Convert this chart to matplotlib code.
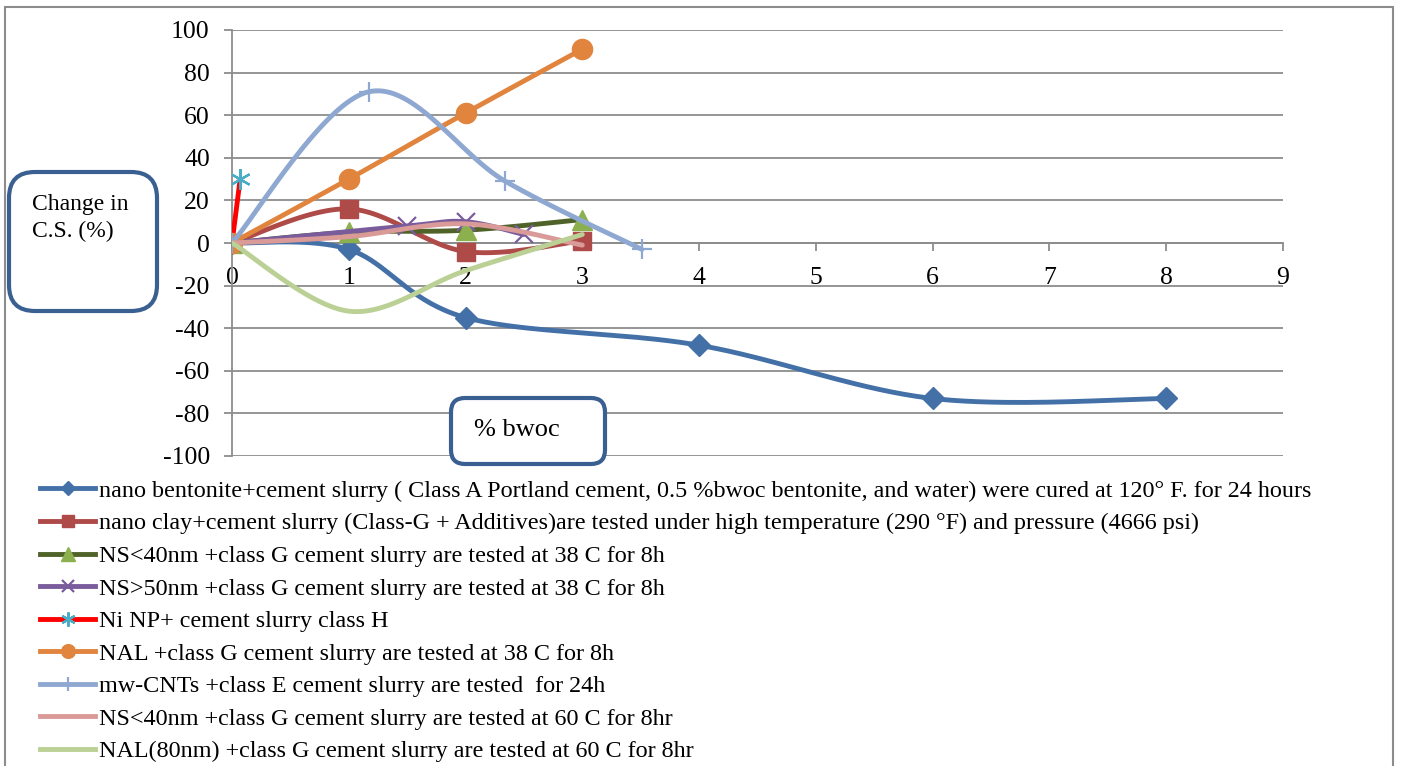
import numpy as np
import matplotlib
matplotlib.use("Agg")
import matplotlib.pyplot as plt
from matplotlib.lines import Line2D
from matplotlib.patches import FancyBboxPatch, Rectangle

plt.rcParams["font.family"] = ["Liberation Serif", "DejaVu Serif"]
plt.rcParams["axes.unicode_minus"] = False

# values
bent_x = [0, 1, 2, 4, 6, 8]
bent_y = [0, -3, -35, -48, -73, -73]
clay_x = [0, 1, 2, 3]
clay_y = [0, 16, -4, 1]
ns40_x = [0, 1, 2, 3]
ns40_y = [0, 5, 6, 11]
ns50_x = [0, 1.5, 2, 2.5]
ns50_y = [0, 8, 10, 4]
ni_x = [0, 0.07]
ni_y = [0, 30]
nal_x = [0, 1, 2, 3]
nal_y = [0, 30, 61, 91]
cnt_x = [0, 1.17, 2.34, 3.51]
cnt_y = [0, 71, 29, -3]
ns40_60_x = [0, 1, 2, 3]
ns40_60_y = [0, 3, 9, -1]
nal80_x = [0, 1, 2, 3]
nal80_y = [0, -32, -13, 4]

labels = [
    "nano bentonite+cement slurry ( Class A Portland cement, 0.5 %bwoc bentonite, and water) were cured at 120° F. for 24 hours",
    "nano clay+cement slurry (Class-G + Additives)are tested under high temperature (290 °F) and pressure (4666 psi)",
    "NS<40nm +class G cement slurry are tested at 38 C for 8h",
    "NS>50nm +class G cement slurry are tested at 38 C for 8h",
    "Ni NP+ cement slurry class H",
    "NAL +class G cement slurry are tested at 38 C for 8h",
    "mw-CNTs +class E cement slurry are tested  for 24h",
    "NS<40nm +class G cement slurry are tested at 60 C for 8hr",
    "NAL(80nm) +class G cement slurry are tested at 60 C for 8hr",
]
x_ticks = list(range(0, 10))
y_ticks = list(range(-100, 101, 20))


def smooth(x, y, n=40):
    # excel style smoothed line (bezier through the points)
    p = np.column_stack([x, y]).astype(float)
    if len(p) < 3:
        return p[:, 0], p[:, 1]
    ext = np.vstack([p[0], p, p[-1]])
    out = []
    t = np.linspace(0, 1, n)[:, None]
    for i in range(len(p) - 1):
        p0, p1 = ext[i + 1], ext[i + 2]
        c1 = p0 + (ext[i + 2] - ext[i]) / 6
        c2 = p1 - (ext[i + 3] - ext[i + 1]) / 6
        seg = ((1 - t) ** 3) * p0 + 3 * ((1 - t) ** 2) * t * c1 + 3 * (1 - t) * t ** 2 * c2 + t ** 3 * p1
        out.append(seg if i == 0 else seg[1:])
    out = np.vstack(out)
    return out[:, 0], out[:, 1]


series = [
    # x, y, line colour, marker, marker face, marker edge, ms, smoothed
    (bent_x, bent_y, "#4470A8", "D", "#4470A8", "#4470A8", 11, True),
    (clay_x, clay_y, "#AE4A48", "s", "#AE4A48", "#AE4A48", 13, True),
    (ns40_x, ns40_y, "#4F6228", "^", "#8DB04E", "#8DB04E", 14, True),
    (ns50_x, ns50_y, "#7A5C9D", "x", "#7A5C9D", "#7A5C9D", 13, True),
    (ni_x, ni_y, "#FF0000", (6, 2, 0), "#4BACC6", "#4BACC6", 15, False),
    (nal_x, nal_y, "#E0843E", "o", "#E0843E", "#E0843E", 14.5, True),
    (cnt_x, cnt_y, "#8EA8D1", "+", "#8EA8D1", "#8EA8D1", 15, True),
    (ns40_60_x, ns40_60_y, "#D99A98", None, None, None, 0, True),
    (nal80_x, nal80_y, "#BBD094", None, None, None, 0, True),
]

fig = plt.figure(figsize=(14.01, 7.66), dpi=100)
ax = fig.add_axes([232 / 1401, 1 - 456 / 766, (1283 - 232) / 1401, (456 - 30) / 766])

handles = []
for k, (x, y, lc, mk, mfc, mec, ms, sm) in enumerate(series):
    xs, ys = smooth(x, y) if sm else (np.array(x), np.array(y))
    z = 3 + k
    ax.plot(xs, ys, color=lc, lw=3.5, solid_capstyle="round", solid_joinstyle="round", zorder=z)
    if mk is not None:
        mew = 1.6 if mk in ("x", "+", (6, 2, 0)) else 1.0
        ax.plot(x, y, ls="none", marker=mk, ms=ms, mfc=mfc, mec=mec, mew=mew, zorder=z + 0.5)
        handles.append(Line2D([], [], color=lc, lw=3.5, marker=mk, ms=ms * 0.68,
                              mfc=mfc, mec=mec, mew=mew))
    else:
        handles.append(Line2D([], [], color=lc, lw=3.5))

ax.set_xlim(0, 9)
ax.set_ylim(-100, 100)
ax.set_xticks(x_ticks)
ax.set_yticks(y_ticks)
ax.grid(axis="y", color="#8C8C8C", lw=1.3)
ax.set_axisbelow(True)
for s in ("top", "right"):
    ax.spines[s].set_visible(False)
ax.spines["bottom"].set_position(("data", 0))
ax.spines["left"].set_color("#8C8C8C")
ax.spines["bottom"].set_color("#8C8C8C")
ax.spines["left"].set_linewidth(1.3)
ax.spines["bottom"].set_linewidth(1.3)
ax.tick_params(axis="both", color="#8C8C8C", width=1.3, length=6, labelsize=18.5)
ax.tick_params(axis="x", pad=11)
ax.tick_params(axis="y", pad=10)
ax.patch.set_visible(False)

fig.legend(handles, labels, loc="upper left", bbox_to_anchor=(40 / 1401, 1 - 480 / 766),
           frameon=False, fontsize=17.4, handlelength=2.28, handletextpad=0.16,
           labelspacing=0.44, borderpad=0, borderaxespad=0, numpoints=1)

tr = fig.dpi_scale_trans
# outer chart border
fig.patches.append(Rectangle((0.05, -0.1), 13.88, 7.69, transform=tr, fill=False,
                             ec="#8C8C8C", lw=1.5))
box_col = "#3A6091"
fig.patches.append(FancyBboxPatch((0.09, 4.55), 1.48, 1.39, transform=tr,
                                  boxstyle="round,pad=0,rounding_size=0.26",
                                  fc="white", ec=box_col, lw=3))
fig.patches.append(FancyBboxPatch((4.51, 3.02), 1.54, 0.66, transform=tr,
                                  boxstyle="round,pad=0,rounding_size=0.14",
                                  fc="white", ec=box_col, lw=3))
fig.text(0.32, 5.72, "Change in\nC.S. (%)", transform=tr, fontsize=17,
         va="top", ha="left", linespacing=1.38)
fig.text(4.74, 3.36, "% bwoc", transform=tr, fontsize=19, va="center", ha="left")

plt.savefig("out.png", dpi=100)
